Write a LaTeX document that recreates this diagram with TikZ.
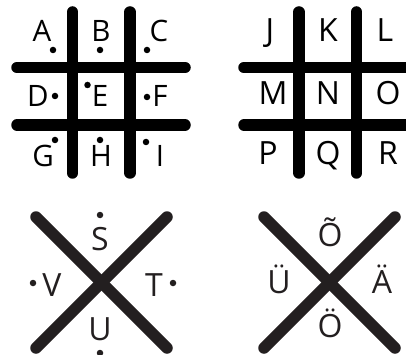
\documentclass[tikz,border=0pt]{standalone}
\usepackage{fontspec}
\setmainfont{Open Sans}
\definecolor{ink}{HTML}{231F20}
\begin{document}
\begin{tikzpicture}[x=1pt,y=-1pt,
  bar/.style={line width=11.5pt,line cap=round,black},
  xbar/.style={line width=11.5pt,line cap=round,ink},
  lt/.style={font=\fontsize{32}{32}\selectfont,inner sep=0pt,anchor=base},
  ls/.style={font=\fontsize{29.5}{29.5}\selectfont,inner sep=0pt,anchor=base},
  pt/.style={circle,fill=black,inner sep=0pt,minimum size=6.5pt},
]
\useasboundingbox (0,0) rectangle (406,355);
\begin{scope}
\clip (0,0) rectangle (406,355);
% grid 1
\coordinate (g1a) at (72.5,12); \coordinate (g1b) at (72.5,173);
\coordinate (g1c) at (130,12); \coordinate (g1d) at (130,173);
\coordinate (g1e) at (17,67.5); \coordinate (g1f) at (185,67.5);
\coordinate (g1g) at (17,125); \coordinate (g1h) at (185,125);
\draw[bar] (g1a) -- (g1b);
\draw[bar] (g1c) -- (g1d);
\draw[bar] (g1e) -- (g1f);
\draw[bar] (g1g) -- (g1h);
% grid 2
\coordinate (g2a) at (299,12); \coordinate (g2b) at (299,173);
\coordinate (g2c) at (356.5,12); \coordinate (g2d) at (356.5,173);
\coordinate (g2e) at (244,67.5); \coordinate (g2f) at (412,67.5);
\coordinate (g2g) at (244,125); \coordinate (g2h) at (412,125);
\draw[bar] (g2a) -- (g2b);
\draw[bar] (g2c) -- (g2d);
\draw[bar] (g2e) -- (g2f);
\draw[bar] (g2g) -- (g2h);
% X 1
\coordinate (x1a) at (36,217); \coordinate (x1b) at (167,348);
\coordinate (x1c) at (167,217); \coordinate (x1d) at (36,348);
\draw[xbar] (x1a) -- (x1b);
\draw[xbar] (x1c) -- (x1d);
% X 2
\coordinate (x2a) at (264,217); \coordinate (x2b) at (395,348);
\coordinate (x2c) at (395,217); \coordinate (x2d) at (264,348);
\draw[xbar] (x2a) -- (x2b);
\draw[xbar] (x2c) -- (x2d);
\end{scope}
% grid 1 letters
\node[ls] (A) at (42,42) {A};
\node[ls] (B) at (101,42) {B};
\node[ls] (C) at (159,42) {C};
\node[ls] (D) at (38,107) {D};
\node[ls] (E) at (100,107) {E};
\node[ls] (F) at (160,107) {F};
\node[ls] (G) at (43,167) {G};
\node[ls] (H) at (101,167) {H};
\node[ls] (I) at (160,167) {I};
\node[pt] (dA) at (53,50) {};
\node[pt] (dB) at (100,50) {};
\node[pt] (dC) at (147,50) {};
\node[pt] (dD) at (55,96) {};
\node[pt] (dE) at (87.5,85) {};
\node[pt] (dF) at (147,97) {};
\node[pt] (dG) at (55,140) {};
\node[pt] (dH) at (100,140) {};
\node[pt] (dI) at (146,142) {};
% grid 2 letters
\node[lt] (J) at (270,42) {J};
\node[lt] (K) at (328,42) {K};
\node[lt] (L) at (385,42) {L};
\node[lt] (M) at (273,105) {M};
\node[lt] (N) at (328,105) {N};
\node[lt] (O) at (388,105) {O};
\node[lt] (P) at (268,165) {P};
\node[lt] (Q) at (328,165) {Q};
\node[lt] (R) at (388,165) {R};
% X 1 letters
\node[lt,text=ink] (S) at (100,250) {S};
\node[lt,text=ink] (V) at (52,296) {V};
\node[lt,text=ink] (T) at (154,296) {T};
\node[lt,text=ink] (U) at (100,340) {U};
\node[pt,fill=ink] (dS) at (100,215) {};
\node[pt,fill=ink] (dV) at (33,283) {};
\node[pt,fill=ink] (dT) at (173,283) {};
\node[pt,fill=ink] (dU) at (100,353) {};
% X 2 letters
\node[lt,text=ink] (Otil) at (330,246) {Õ};
\node[lt,text=ink] (Uum) at (279,293) {Ü};
\node[lt,text=ink] (Aum) at (382,293) {Ä};
\node[lt,text=ink] (Oum) at (330,337) {Ö};
\end{tikzpicture}
\end{document}
